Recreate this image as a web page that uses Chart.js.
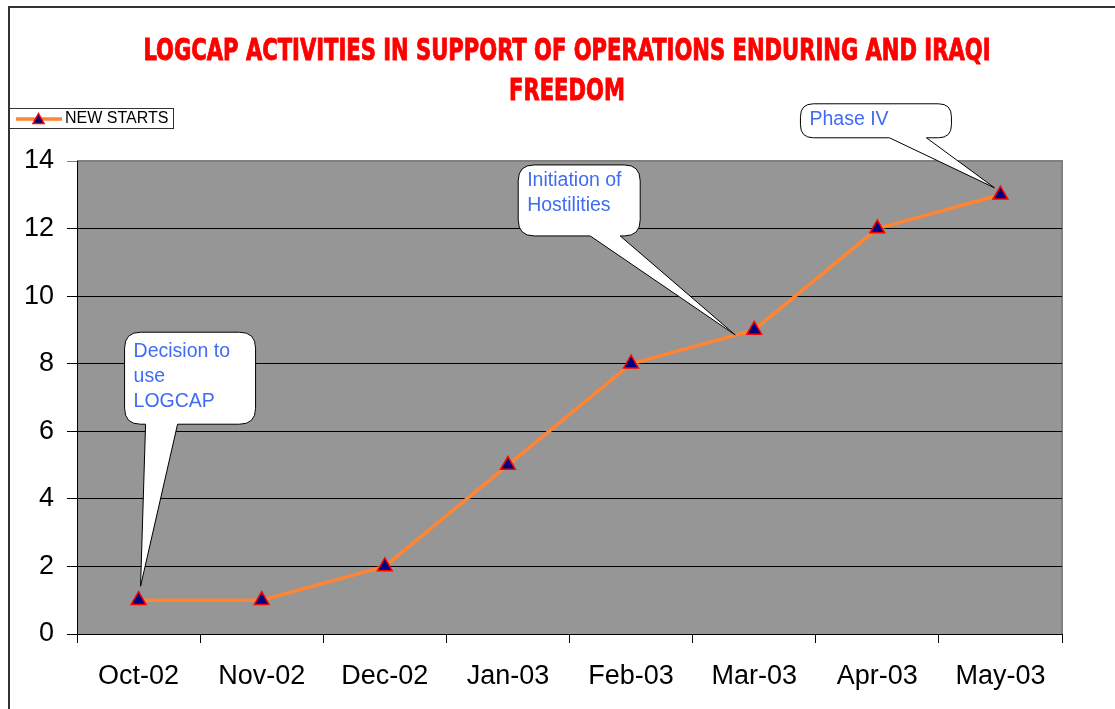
<!DOCTYPE html>
<html>
<head>
<meta charset="utf-8">
<script src="https://cdn.jsdelivr.net/npm/chart.js@4/dist/chart.umd.min.js"></script>
<style>
  html, body { margin: 0; padding: 0; background: #ffffff; }
  #wrap { width: 1115px; height: 709px; position: relative; }
</style>
</head>
<body>
<div id="wrap"><canvas id="chart1" width="1115" height="709"></canvas></div>
<script>
// chart data
const months = ['Oct-02', 'Nov-02', 'Dec-02', 'Jan-03', 'Feb-03', 'Mar-03', 'Apr-03', 'May-03'];
const newStarts = [1, 1, 2, 5, 8, 9, 12, 13];
const seriesName = 'NEW STARTS';
const titleLines = ['LOGCAP ACTIVITIES IN SUPPORT OF OPERATIONS ENDURING AND IRAQI', 'FREEDOM'];
const yMin = 0, yMax = 14, yStep = 2;

// callout bubbles, tied to a point of the series
const calloutText = [['Decision to', 'use', 'LOGCAP'], ['Initiation of', 'Hostilities'], ['Phase IV']];
const calloutPoint = [0, 5, 7];

// look of the bubbles (offsets from the tip, px)
const calloutBox = [
    { tipDx: 2, tipDy: -14, left: -16, top: -254, w: 131, h: 92, r: 16, baseA: 37, baseB: 5, textTop: 19 },
    { tipDx: -19, tipDy: 5, left: -217, top: -170, w: 122, h: 71, r: 16, baseA: -115, baseB: -145, textTop: 16 },
    { tipDx: -6, tipDy: -7, left: -194, top: -84, w: 151, h: 34, r: 13, baseA: -68, baseB: -105, textTop: 16 }
];

const orange = '#FF8533';
const tickFont = { family: '"Liberation Sans", Arial', size: 27 };

function triangle(ctx, x, y, s) {
    ctx.beginPath();
    ctx.moveTo(x, y - s);
    ctx.lineTo(x + s, y + s * 0.8);
    ctx.lineTo(x - s, y + s * 0.8);
    ctx.closePath();
    ctx.fillStyle = '#000080';
    ctx.fill();
    ctx.strokeStyle = '#FF0000';
    ctx.lineWidth = 1.5;
    ctx.stroke();
}

// background, frame, title, legend, callouts
const decorPlugin = {
    id: 'decor',
    beforeDraw(chart) {
        const ctx = chart.ctx;
        const a = chart.chartArea;
        ctx.save();
        ctx.fillStyle = '#ffffff';
        ctx.fillRect(0, 0, chart.width, chart.height);
        // frame
        ctx.strokeStyle = '#333333';
        ctx.lineWidth = 2;
        ctx.beginPath();
        ctx.moveTo(9, chart.height);
        ctx.lineTo(9, 7);
        ctx.lineTo(chart.width, 7);
        ctx.stroke();
        // plot area
        ctx.fillStyle = '#969696';
        ctx.fillRect(a.left, a.top, a.right - a.left, a.bottom - a.top);
        ctx.strokeStyle = '#808080';
        ctx.lineWidth = 2;
        ctx.beginPath();
        ctx.moveTo(a.left, a.top);
        ctx.lineTo(a.right, a.top);
        ctx.lineTo(a.right, a.bottom);
        ctx.stroke();

        // title, squeezed to look like a condensed display face
        ctx.fillStyle = '#FF0000';
        ctx.strokeStyle = '#FF0000';
        ctx.lineWidth = 0.9;
        ctx.font = 'bold 30px "DejaVu Sans Condensed", "DejaVu Sans"';
        ctx.textBaseline = 'alphabetic';
        ctx.textAlign = 'left';
        const fullW = ctx.measureText(titleLines[0]).width;
        const sx = 847 / fullW;
        const cx = 567;
        const baselines = [60, 100];
        titleLines.forEach(function (t, i) {
            const w = ctx.measureText(t).width * sx;
            ctx.save();
            ctx.translate(cx - w / 2, baselines[i]);
            ctx.scale(sx, 1);
            ctx.fillText(t, 0, 0);
            ctx.strokeText(t, 0, 0);
            ctx.restore();
        });

        // legend
        ctx.strokeStyle = '#333333';
        ctx.lineWidth = 1;
        ctx.fillStyle = '#ffffff';
        ctx.fillRect(9.5, 108.5, 164, 20);
        ctx.strokeRect(9.5, 108.5, 164, 20);
        ctx.strokeStyle = orange;
        ctx.lineWidth = 3.5;
        ctx.beginPath();
        ctx.moveTo(16, 119);
        ctx.lineTo(62, 119);
        ctx.stroke();
        triangle(ctx, 38.5, 119, 5.5);
        ctx.fillStyle = '#000000';
        ctx.font = '16px "Liberation Sans", Arial';
        ctx.textBaseline = 'middle';
        ctx.fillText(seriesName, 65, 119);
        ctx.restore();
    },
    afterDatasetsDraw(chart) {
        const ctx = chart.ctx;
        const meta = chart.getDatasetMeta(0);
        ctx.save();
        calloutText.forEach(function (lines, i) {
            const p = meta.data[calloutPoint[i]];
            const b = calloutBox[i];
            const tx = p.x + b.tipDx, ty = p.y + b.tipDy;
            const l = tx + b.left, t = ty + b.top, r = l + b.w, bt = t + b.h, rad = b.r;
            ctx.beginPath();
            ctx.moveTo(l + rad, t);
            ctx.lineTo(r - rad, t);
            ctx.quadraticCurveTo(r, t, r, t + rad);
            ctx.lineTo(r, bt - rad);
            ctx.quadraticCurveTo(r, bt, r - rad, bt);
            ctx.lineTo(tx + b.baseA, bt);
            ctx.lineTo(tx, ty);
            ctx.lineTo(tx + b.baseB, bt);
            ctx.lineTo(l + rad, bt);
            ctx.quadraticCurveTo(l, bt, l, bt - rad);
            ctx.lineTo(l, t + rad);
            ctx.quadraticCurveTo(l, t, l + rad, t);
            ctx.closePath();
            ctx.fillStyle = '#ffffff';
            ctx.fill();
            ctx.strokeStyle = '#000000';
            ctx.lineWidth = 1;
            ctx.stroke();
            ctx.fillStyle = '#3F6CF2';
            ctx.font = '19.5px "Liberation Sans", Arial';
            ctx.textBaseline = 'middle';
            ctx.textAlign = 'left';
            lines.forEach(function (s, k) {
                ctx.fillText(s, l + 9, t + b.textTop + k * 25);
            });
        });
        ctx.restore();
    }
};

const chartEl = document.getElementById('chart1');
const myChart = new Chart(chartEl, {
    type: 'line',
    data: {
        labels: months,
        datasets: [{
            label: seriesName,
            data: newStarts,
            borderColor: orange,
            borderWidth: 3.5,
            tension: 0,
            fill: false,
            pointStyle: 'triangle',
            pointRadius: 8.5,
            pointBackgroundColor: '#000080',
            pointBorderColor: '#FF0000',
            pointBorderWidth: 1.5
        }]
    },
    options: {
        responsive: false,
        animation: false,
        events: [],
        layout: { padding: { top: 161, right: 53, left: 0, bottom: 0 } },
        plugins: {
            legend: { display: false },
            title: { display: false },
            tooltip: { enabled: false }
        },
        scales: {
            x: {
                offset: true,
                grid: { offset: true, drawOnChartArea: false, color: '#000000', tickLength: 9 },
                border: { color: '#000000', width: 1 },
                ticks: { color: '#000000', font: tickFont, padding: 17, maxRotation: 0, autoSkip: false },
                afterFit: function (s) { s.height = 75; }
            },
            y: {
                min: yMin,
                max: yMax,
                grid: {
                    color: function (c) { return c.tick && c.tick.value === yMax ? '#808080' : '#000000'; },
                    tickLength: 10
                },
                border: { color: '#000000', width: 1 },
                ticks: { stepSize: yStep, color: '#000000', font: tickFont, padding: 13 },
                afterFit: function (s) { s.width = 77; }
            }
        }
    },
    plugins: [decorPlugin]
});
</script>
</body>
</html>
